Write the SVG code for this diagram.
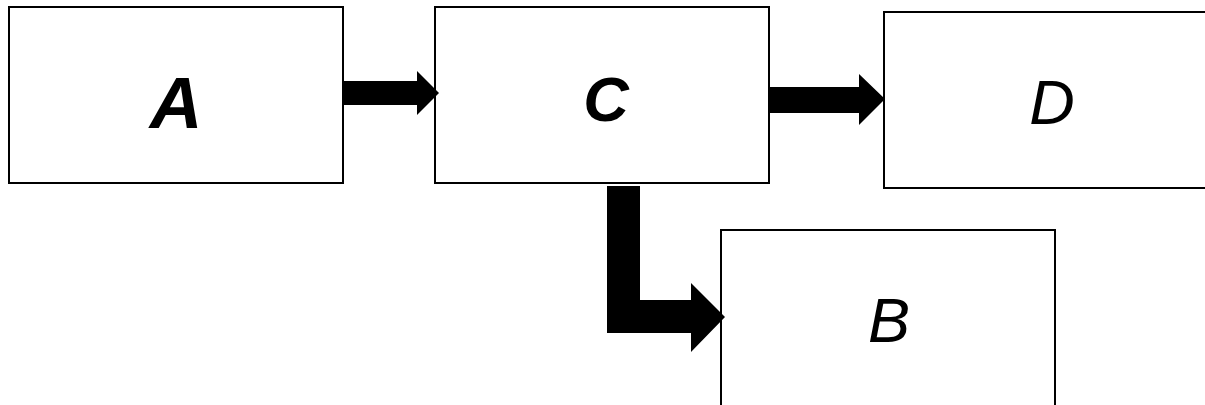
<svg xmlns="http://www.w3.org/2000/svg" width="1205" height="405" viewBox="0 0 1205 405">
  <style>
    .box { fill: #fff; stroke: #000; stroke-width: 2; }
    .lbl { font-family: "Liberation Sans", Arial, sans-serif; font-style: italic; text-anchor: middle; fill: #000; }
    .bold { font-weight: bold; }
    .arrow { fill: #000; stroke: none; }
  </style>
  <rect width="1205" height="405" fill="#fff"/>
  <g id="node-A">
    <rect class="box" x="9" y="7" width="334" height="176"/>
    <text class="lbl bold" x="176" y="128" font-size="73">A</text>
  </g>
  <g id="node-C">
    <rect class="box" x="435" y="7" width="334" height="176"/>
    <text class="lbl bold" x="606" y="121" font-size="63">C</text>
  </g>
  <g id="node-D">
    <rect class="box" x="884" y="12" width="340" height="176"/>
    <text class="lbl" x="1052" y="124" font-size="63">D</text>
  </g>
  <g id="node-B">
    <rect class="box" x="721" y="230" width="334" height="200"/>
    <text class="lbl" x="889" y="342" font-size="63">B</text>
  </g>
  <g id="connectors">
    <!-- A to C -->
    <polygon class="arrow" points="343,81 417,81 417,71 439,93 417,115 417,105 343,105"/>
    <!-- C to D -->
    <polygon class="arrow" points="770,87 859,87 859,74 885,99 859,125 859,113 770,113"/>
    <!-- C down and across to B -->
    <polygon class="arrow" points="607,186 640,186 640,300 691,300 691,283 725,317 691,352 691,333 607,333"/>
  </g>
</svg>
